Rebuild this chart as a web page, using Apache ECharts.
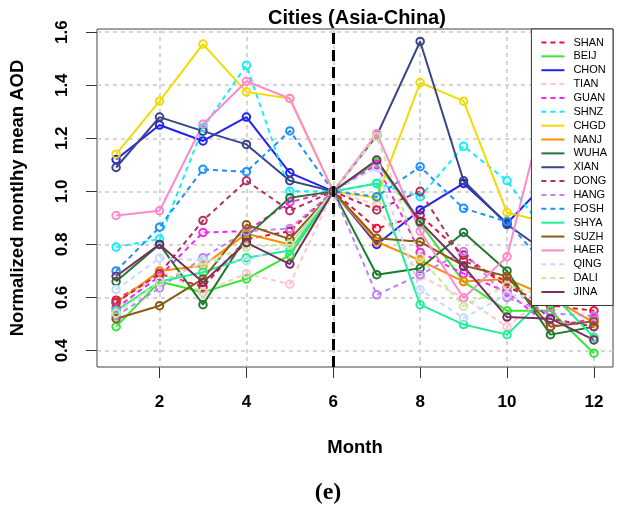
<!DOCTYPE html>
<html>
<head>
<meta charset="utf-8">
<script src="https://cdn.jsdelivr.net/npm/echarts@6/dist/echarts.min.js"></script>
<style>
  html, body { margin: 0; padding: 0; background: #fff; }
  #main { width: 625px; height: 508px; }
</style>
</head>
<body>
<div id="main"></div>
<script>
// 月份与刻度
const months = [1, 2, 3, 4, 5, 6, 7, 8, 9, 10, 11, 12];
const xTicks = [2, 4, 6, 8, 10, 12];
const yTicks = [0.4, 0.6, 0.8, 1.0, 1.2, 1.4, 1.6];
const cities = ['SHAN', 'BEIJ', 'CHON', 'TIAN', 'GUAN', 'SHNZ', 'CHGD', 'NANJ', 'WUHA', 'XIAN',
                'DONG', 'HANG', 'FOSH', 'SHYA', 'SUZH', 'HAER', 'QING', 'DALI', 'JINA'];

// 各城市归一化月均AOD
const shan = [0.59, 0.69, 0.64, 0.82, 0.85, 1.00, 0.86, 0.91, 0.76, 0.64, 0.57, 0.55];
const beij = [0.49, 0.66, 0.62, 0.67, 0.76, 1.00, 1.11, 0.88, 0.66, 0.55, 0.55, 0.39];
const chon = [1.12, 1.25, 1.19, 1.28, 1.07, 1.00, 0.80, 0.93, 1.03, 0.88, 1.05, 0.80];
const tian = [0.55, 0.70, 0.62, 0.69, 0.65, 1.00, 0.95, 0.68, 0.60, 0.49, 0.62, 0.64];
const guan = [0.56, 0.68, 0.845, 0.85, 0.96, 1.00, 1.10, 0.77, 0.69, 0.62, 0.49, 0.52];
const shnz = [0.79, 0.82, 1.24, 1.475, 1.00, 1.00, 1.03, 0.98, 1.17, 1.04, 0.82, 0.70];
const chgd = [1.14, 1.34, 1.555, 1.375, 1.35, 1.00, 0.975, 1.41, 1.34, 0.92, 0.88, 0.80];
const nanj = [0.58, 0.70, 0.72, 0.84, 0.80, 1.00, 0.81, 0.74, 0.66, 0.67, 0.60, 0.505];
const wuha = [0.66, 0.80, 0.573, 0.83, 0.976, 1.00, 0.686, 0.71, 0.845, 0.70, 0.46, 0.49];
const xian = [1.09, 1.28, 1.227, 1.177, 1.04, 1.00, 1.21, 1.565, 1.04, 0.875, 0.76, 0.70];
const dong = [0.58, 0.69, 0.89, 1.04, 0.927, 1.00, 0.93, 1.00, 0.74, 0.66, 0.52, 0.49];
const hang = [0.53, 0.636, 0.75, 0.85, 0.86, 1.00, 0.61, 0.686, 0.773, 0.60, 0.54, 0.53];
const fosh = [0.70, 0.865, 1.083, 1.074, 1.228, 1.00, 0.98, 1.093, 0.936, 0.886, 0.70, 0.62];
const shya = [0.55, 0.66, 0.695, 0.75, 0.777, 1.00, 1.03, 0.573, 0.498, 0.46, 0.62, 0.45];
const suzh = [0.52, 0.569, 0.67, 0.874, 0.82, 1.00, 0.823, 0.81, 0.72, 0.68, 0.49, 0.51];
const haer = [0.909, 0.927, 1.253, 1.415, 1.35, 1.00, 1.218, 0.85, 0.598, 0.754, 1.40, 0.70];
const qing = [0.63, 0.748, 0.74, 0.738, 0.80, 1.00, 1.09, 0.629, 0.523, 0.61, 0.60, 0.62];
const dali = [0.54, 0.66, 0.73, 0.79, 0.80, 1.00, 1.208, 0.75, 0.567, 0.645, 0.60, 0.60];
const jina = [0.68, 0.80, 0.657, 0.807, 0.726, 1.00, 1.118, 0.886, 0.717, 0.526, 0.52, 0.44];

const values = [shan, beij, chon, tian, guan, shnz, chgd, nanj, wuha, xian,
                dong, hang, fosh, shya, suzh, haer, qing, dali, jina];

// 样式：颜色与虚线
const colors = ['#ee1133', '#33e833', '#2222ee', '#ffc6cc', '#ff22ee', '#11eeff', '#eedd00', '#ff8c00', '#1f7a2f', '#3a4585',
                '#b03060', '#c080f8', '#1e90ff', '#22ee9a', '#8b5a14', '#ff8acb', '#c6daff', '#c8e6a0', '#733060'];
const dashed = [true, false, false, true, true, true, false, false, false, false,
                true, true, true, false, false, false, true, true, false];

const FONT = 'Liberation Sans';

var chart = echarts.init(document.getElementById('main'), null, {renderer: 'canvas'});

var series = cities.map(function(name, i) {
  var s = {
    name: name,
    type: 'line',
    data: months.map(function(m, j) { return [m, values[i][j]]; }),
    symbol: 'circle',
    symbolSize: 7.5,
    itemStyle: {color: 'rgba(0,0,0,0)', borderColor: colors[i], borderWidth: 2},
    lineStyle: {color: colors[i], width: 2, type: dashed[i] ? [5, 4] : 'solid'},
    emphasis: {disabled: true},
    animation: false
  };
  if (i === 0) {
    // 6月分界线
    s.markLine = {
      silent: true,
      symbol: ['none', 'none'],
      label: {show: false},
      lineStyle: {color: '#000', width: 3, type: [11, 6]},
      data: [{xAxis: 6}]
    };
  }
  return s;
});

var option = {
  animation: false,
  backgroundColor: '#fff',
  title: [{
    text: 'Cities (Asia-China)',
    left: 352, top: 3, textAlign: 'center',
    textStyle: {fontFamily: FONT, fontSize: 20, fontWeight: 'bold', color: '#000'}
  }, {
    text: '(e)',
    left: 323, top: 476, textAlign: 'center',
    textStyle: {fontFamily: 'Liberation Serif', fontSize: 24, fontWeight: 'bold', color: '#000'}
  }],
  grid: {left: 97, right: 12, top: 29, bottom: 141, show: true, borderColor: '#444', borderWidth: 1},
  legend: {
    data: cities,
    orient: 'vertical',
    right: 12, top: 29,
    padding: [8, 6, 8, 9],
    itemWidth: 23, itemHeight: 11, itemGap: 2.86,
    backgroundColor: '#fff',
    borderColor: '#333', borderWidth: 1,
    itemStyle: {opacity: 0},
    textStyle: {fontFamily: FONT, fontSize: 11, color: '#000', lineHeight: 11, padding: [0, 0, 0, 4]},
    z: 10
  },
  xAxis: {
    type: 'value', min: 0.56, max: 12.44,
    name: 'Month', nameLocation: 'middle', nameGap: 71,
    nameTextStyle: {fontFamily: FONT, fontSize: 18.5, fontWeight: 'bold', color: '#000'},
    axisLine: {show: false},
    axisTick: {show: true, length: 11, customValues: xTicks, lineStyle: {color: '#333'}},
    axisLabel: {customValues: xTicks, margin: 27, fontFamily: FONT, fontSize: 17, fontWeight: 'bold', color: '#000'},
    splitLine: {show: true, lineStyle: {color: '#c8c8c8', width: 1.5, type: [4, 4]}}
  },
  yAxis: {
    type: 'value', min: 0.338, max: 1.612,
    name: 'Normalized montlhy mean AOD', nameLocation: 'middle', nameGap: 70, nameRotate: 90,
    nameTextStyle: {fontFamily: FONT, fontSize: 18.5, fontWeight: 'bold', color: '#000'},
    axisLine: {show: false},
    axisTick: {show: true, length: 11, customValues: yTicks, lineStyle: {color: '#333'}},
    axisLabel: {
      customValues: yTicks, rotate: 90, margin: 26,
      fontFamily: FONT, fontSize: 17, fontWeight: 'bold', color: '#000',
      formatter: function(v) { return v.toFixed(1); }
    },
    splitLine: {show: true, lineStyle: {color: '#c8c8c8', width: 1.5, type: [4, 4]}}
  },
  series: series
};

chart.setOption(option);
</script>
</body>
</html>
